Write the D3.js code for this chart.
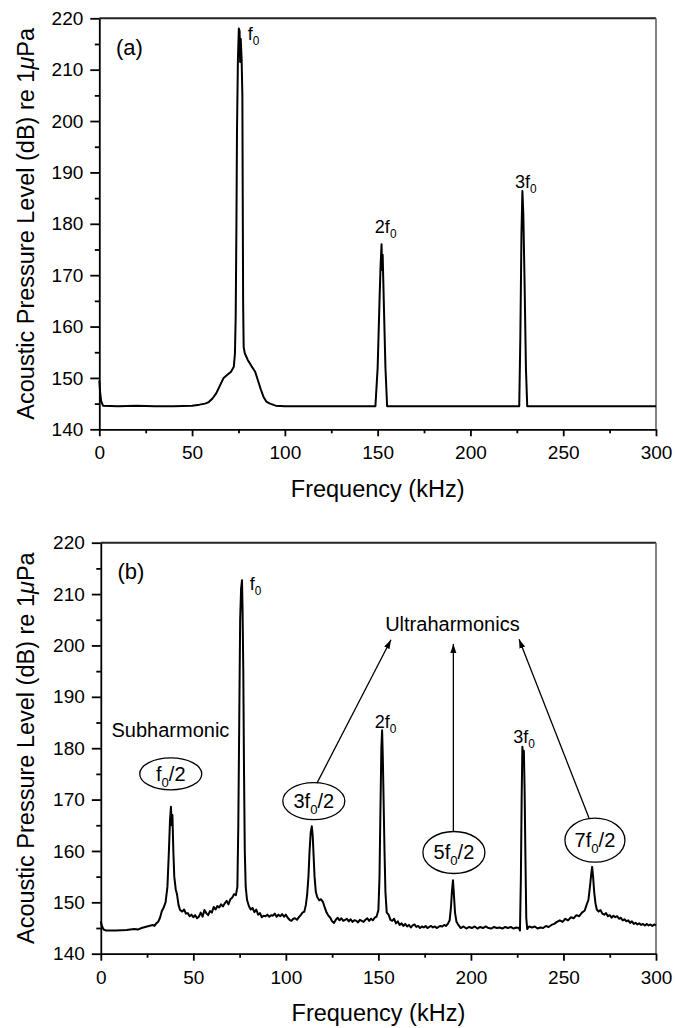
<!DOCTYPE html>
<html>
<head>
<meta charset="utf-8">
<script src="https://cdn.jsdelivr.net/npm/d3@7"></script>
<style>
  body { margin: 0; background: #fff; }
  text { font-family: "Liberation Sans", Arial, sans-serif; fill: #000; }
</style>
</head>
<body>
<svg id="chart" width="675" height="1028"></svg>
<script>
// ---- data (kHz, dB re 1 uPa) ----
const xTicks = [0, 50, 100, 150, 200, 250, 300];
const xMinor = [25, 75, 125, 175, 225, 275];
const yTicks = [140, 150, 160, 170, 180, 190, 200, 210, 220];
const yMinor = [145, 155, 165, 175, 185, 195, 205, 215];

// panel (a) spectrum
const specA = [
  [0, 149.5], [0.5, 147], [1, 145.5], [2, 144.6], [10, 144.5], [20, 144.6], [30, 144.5],
  [40, 144.5], [50, 144.6], [54, 144.8], [57, 145.0], [59, 145.3], [61, 146.0], [63, 147.0],
  [65, 148.5], [67, 150.0], [69, 150.6], [71, 151.2], [72.5, 152.2], [73.1, 154.8],
  [73.5, 162], [73.9, 180], [74.2, 198], [74.7, 212], [75.2, 218], [75.6, 217.5],
  [75.9, 211.5], [76.2, 216], [76.7, 212], [77.1, 205], [77.3, 185], [77.5, 165],
  [77.8, 156], [78.4, 154.8], [80, 153.5], [82, 152.3], [84, 151.2], [85.5, 149.5],
  [87, 147.8], [88.5, 146.3], [90, 145.4], [92, 145.0], [95, 144.6], [100, 144.5],
  [148.8, 144.5], [150, 152], [151, 165], [151.6, 172], [152.1, 176], [152.4, 171],
  [152.7, 174], [153.3, 165], [154.2, 152], [155.1, 144.5], [226.3, 144.5], [226.9, 158],
  [227.5, 178], [228, 186.4], [228.5, 182], [229.2, 168], [229.9, 152], [230.6, 144.5],
  [300, 144.5]
];

// panel (b) spectrum
const specB = [
  [0, 146.3], [0.5, 145.5], [1.5, 144.7], [3, 144.5], [8, 144.5], [14, 144.6], [18, 144.8],
  [20, 144.7], [22, 145.0], [24, 145.2], [26, 145.4], [28, 145.6], [29, 145.4], [30, 145.9],
  [31, 146.2], [32, 147.0], [33, 148.3], [34, 149.0], [35, 150.0], [36, 153], [36.8, 160],
  [37.4, 166], [37.9, 168.6], [38.3, 165], [38.7, 167], [39.2, 160], [39.7, 155],
  [40.5, 152.5], [41.2, 151.5], [42, 149.5], [42.8, 148.5], [44, 148.2], [45, 148.6],
  [46, 147.8], [47, 147.9], [48, 147.3], [49, 147.6], [50, 147.1], [51, 147.5], [52, 146.9],
  [53, 147.2], [54, 148.0], [55, 147.2], [56, 148.5], [57, 147.9], [58, 147.5], [59, 148.3],
  [60, 148.0], [61, 149.1], [62, 148.6], [63, 149.3], [64, 149.0], [65, 149.6], [66, 149.2],
  [67, 149.8], [68, 150.3], [69, 149.6], [70, 150.6], [71, 150.9], [72, 151.6], [73, 151.4],
  [73.8, 153], [74.3, 165], [74.8, 185], [75.3, 205], [75.8, 211], [76.3, 212.7],
  [76.6, 207], [77.0, 195], [77.4, 175], [77.8, 160], [78.3, 153], [79, 150.5], [80, 149.3],
  [81, 148.6], [82, 148.9], [83, 148.1], [84, 148.6], [85, 147.6], [86, 147.9], [87, 147.1],
  [88, 147.4], [89, 147.3], [90, 147.6], [91, 147.2], [92, 147.5], [93, 147.4], [94, 147.8],
  [95, 147.2], [96, 147.6], [97, 147.3], [98, 147.7], [99, 147.2], [100, 147.6], [101, 147.0],
  [102, 146.6], [103, 146.4], [104, 146.8], [105, 146.9], [106, 146.6], [107, 147.1],
  [108, 147.5], [109, 148.0], [110, 148.2], [110.8, 149.5], [111.5, 151.5], [112.2, 155],
  [112.8, 160], [113.4, 163.5], [114.0, 164.8], [114.5, 163], [115.0, 159], [115.5, 155],
  [116.2, 152], [117, 151], [118, 150.4], [119, 150.6], [120, 150.1], [121, 149.0],
  [122, 148.0], [123, 147.4], [124, 147.0], [125, 146.3], [126, 146.0], [127, 146.6],
  [128, 147.0], [129, 146.5], [130, 146.9], [131, 146.4], [132, 146.6], [133, 146.8],
  [134, 146.3], [135, 146.7], [136, 146.2], [137, 146.5], [138, 146.4], [139, 146.1],
  [140, 146.6], [141, 146.4], [142, 146.2], [143, 146.6], [144, 146.9], [145, 146.4],
  [146, 146.8], [147, 146.5], [148, 147.0], [149, 147.2], [150, 148.5], [150.6, 155],
  [151.1, 168], [151.6, 180], [152.0, 183.5], [152.4, 178], [152.8, 170], [153.3, 160],
  [153.8, 152], [154.5, 148], [155.5, 147.6], [156.5, 146.6], [157.5, 146.4], [158.5, 146.8],
  [159.5, 145.9], [160.5, 146.3], [161.5, 145.6], [162.5, 145.9], [163.5, 145.4],
  [164.5, 145.8], [165.5, 145.3], [166.5, 145.6], [167.5, 145.1], [168.5, 145.5],
  [169.5, 145.7], [170.5, 145.2], [171.5, 145.4], [172.5, 145.0], [173.5, 145.3],
  [174.5, 145.1], [175.5, 145.4], [176.5, 145.0], [177.5, 145.2], [178.5, 145.4],
  [179.5, 145.1], [180.5, 145.3], [181.5, 145.0], [182.5, 145.2], [183.5, 145.4],
  [184.5, 145.3], [185.5, 145.6], [186.5, 145.4], [187.5, 145.8], [188.5, 146.5],
  [189.2, 149], [189.8, 152.5], [190.3, 154.3], [190.8, 151.5], [191.4, 148], [192.2, 146.2],
  [193.2, 145.6], [194.5, 145.0], [196, 145.3], [197.5, 144.9], [199, 145.2], [200.5, 145.0],
  [202, 145.3], [203.5, 144.9], [205, 145.2], [206.5, 145.0], [208, 145.3], [209.5, 145.0],
  [211, 144.9], [212.5, 145.2], [214, 145.0], [215.5, 145.1], [217, 144.9], [218.5, 145.2],
  [220, 145.0], [221.5, 145.2], [223, 144.9], [224.5, 145.1], [226, 145.0], [226.5, 144.5],
  [227.0, 155], [227.4, 170], [227.8, 180.3], [228.2, 178], [228.6, 179.5], [229.0, 172],
  [229.4, 160], [229.9, 147], [230.4, 144.8], [231.5, 145.3], [233, 145.1], [234.5, 145.3],
  [236, 144.9], [237.5, 145.1], [239, 145.0], [240.5, 145.4], [242, 145.2], [243.5, 145.6],
  [245, 145.8], [246.5, 146.2], [248, 146.5], [249.5, 146.2], [251, 146.8], [252.5, 146.5],
  [254, 147.1], [255.5, 146.9], [257, 147.5], [258.5, 147.3], [260, 148.0], [261.5, 148.4],
  [262.5, 149.5], [263.5, 150.5], [264.3, 153], [265.0, 155.5], [265.5, 156.9], [266.0, 155],
  [266.6, 152], [267.3, 149.8], [268, 148.6], [269, 148.2], [270, 148.5], [271, 147.8],
  [272, 147.6], [273, 147.9], [274, 147.3], [275, 147.5], [276, 147.0], [277, 147.4],
  [278, 147.1], [279, 147.3], [280, 146.8], [281, 147.0], [282, 146.5], [283, 146.7],
  [284, 146.3], [285, 146.5], [286, 146.0], [287, 146.3], [288, 145.8], [289, 146.0],
  [290, 145.7], [291, 145.9], [292, 145.6], [293, 145.8], [294, 145.5], [295, 145.8],
  [296, 145.5], [297, 145.7], [298, 145.4], [299, 145.7], [300, 145.5]
];

// peak labels: [kHz, dB, prefix, subscript]
const peaksA = [[80, 215.8, "f", "0"], [148.5, 178.2, "2f", "0"], [224, 187, "3f", "0"]];
const peaksB = [[80.5, 210.8, "f", "0"], [148, 184, "2f", "0"], [222.9, 181, "3f", "0"]];

// circled labels in (b): [kHz, dB, prefix, sub, suffix, rx, ry]
const bubblesB = [
  [37.8, 175.0, "f", "0", "/2", 31, 16],
  [115.1, 169.7, "3f", "0", "/2", 31, 18.5],
  [190.8, 159.7, "5f", "0", "/2", 31, 21],
  [267.0, 162.1, "7f", "0", "/2", 30, 22]
];
// arrows in (b): [fromKHz, fromDB, toKHz, toDB]
const arrowsB = [
  [116.8, 173.2, 156.8, 201.1],
  [190.5, 163.9, 190.5, 200.3],
  [263.8, 166.4, 226.0, 201.2]
];

const svg = d3.select("#chart");

svg.append("defs").append("marker")
  .attr("id", "head")
  .attr("markerUnits", "userSpaceOnUse")
  .attr("markerWidth", 10).attr("markerHeight", 7)
  .attr("refX", 9).attr("refY", 3)
  .attr("orient", "auto")
  .append("path").attr("d", "M0,0 L9,3 L0,6 Z").attr("fill", "#000");

function subLabel(g, x, y, pre, sub, post, size, anchor) {
  const t = g.append("text")
    .attr("x", x).attr("y", y)
    .attr("font-size", size)
    .attr("text-anchor", anchor || "start");
  t.append("tspan").text(pre);
  t.append("tspan").attr("font-size", size * 0.66).attr("dy", size * 0.3).text(sub);
  if (post) t.append("tspan").attr("dy", -size * 0.3).text(post);
  return t;
}

function panel(box, spec, tag, peaks) {
  const g = svg.append("g");
  const x = d3.scaleLinear().domain([0, 300]).range([box.left, box.right]);
  const y = d3.scaleLinear().domain([140, 220]).range([box.bottom, box.top]);

  // frame top / right
  g.append("line").attr("x1", x(0)).attr("x2", x(300)).attr("y1", y(220)).attr("y2", y(220))
    .attr("stroke", "#222").attr("stroke-width", 2);
  g.append("line").attr("x1", x(300)).attr("x2", x(300)).attr("y1", y(220)).attr("y2", y(140))
    .attr("stroke", "#666").attr("stroke-width", 1.6);

  // minor ticks
  g.append("g").attr("transform", `translate(0,${y(140)})`)
    .call(d3.axisBottom(x).tickValues(xMinor).tickSize(4).tickFormat(""))
    .call(a => a.select(".domain").remove())
    .selectAll("line").attr("stroke-width", 1.8);
  g.append("g").attr("transform", `translate(${x(0)},0)`)
    .call(d3.axisLeft(y).tickValues(yMinor).tickSize(4.5).tickFormat(""))
    .call(a => a.select(".domain").remove())
    .selectAll("line").attr("stroke-width", 1.8);

  // major axes
  const xa = g.append("g").attr("transform", `translate(0,${y(140)})`)
    .call(d3.axisBottom(x).tickValues(xTicks).tickSize(7).tickPadding(9.5).tickSizeOuter(0));
  const ya = g.append("g").attr("transform", `translate(${x(0)},0)`)
    .call(d3.axisLeft(y).tickValues(yTicks).tickSize(9).tickPadding(7).tickSizeOuter(0));
  [xa, ya].forEach(a => {
    a.attr("font-size", null).attr("font-family", null);
    a.selectAll("text").attr("font-size", 19);
    a.selectAll("line").attr("stroke-width", 1.8);
    a.select(".domain").attr("stroke-width", 1.8);
  });

  // spectrum
  g.append("path").datum(spec)
    .attr("fill", "none").attr("stroke", "#000").attr("stroke-width", 2)
    .attr("stroke-linejoin", "round")
    .attr("d", d3.line().x(d => x(d[0])).y(d => y(d[1])));

  // axis titles
  g.append("text")
    .attr("x", (x(0) + x(300)) / 2).attr("y", y(140) + 67.7)
    .attr("text-anchor", "middle").attr("font-size", 23.5)
    .text("Frequency (kHz)");
  const yt = g.append("text")
    .attr("transform", `translate(34,${(y(140) + y(220)) / 2}) rotate(-90)`)
    .attr("text-anchor", "middle").attr("font-size", 23.5);
  yt.append("tspan").text("Acoustic Pressure Level (dB) re 1");
  yt.append("tspan").attr("font-style", "italic").text("\u03BC");
  yt.append("tspan").text("Pa");

  // panel tag
  g.append("text").attr("x", x(9)).attr("y", y(212.9)).attr("font-size", 22).text(tag);

  peaks.forEach(p => subLabel(g, x(p[0]), y(p[1]), p[2], p[3], null, 18));
  return { g, x, y };
}

panel({ left: 99.3, right: 656, top: 18.3, bottom: 429.3 }, specA, "(a)", peaksA);
const pb = panel({ left: 100.8, right: 656, top: 542.7, bottom: 953.7 }, specB, "(b)", peaksB);

// annotations of panel (b)
const gb = pb.g, xb = pb.x, yb = pb.y;
gb.append("text").attr("x", xb(5.8)).attr("y", yb(182.2)).attr("font-size", 20).text("Subharmonic");
gb.append("text").attr("x", xb(190)).attr("y", yb(202.8)).attr("font-size", 20)
  .attr("text-anchor", "middle").text("Ultraharmonics");

bubblesB.forEach(b => {
  gb.append("ellipse")
    .attr("cx", xb(b[0])).attr("cy", yb(b[1]))
    .attr("rx", b[5]).attr("ry", b[6])
    .attr("fill", "#fff").attr("stroke", "#000").attr("stroke-width", 1.3);
  subLabel(gb, xb(b[0]), yb(b[1]) + 7, b[2], b[3], b[4], 20, "middle");
});

arrowsB.forEach(a => {
  gb.append("line")
    .attr("x1", xb(a[0])).attr("y1", yb(a[1]))
    .attr("x2", xb(a[2])).attr("y2", yb(a[3]))
    .attr("stroke", "#000").attr("stroke-width", 1.3)
    .attr("marker-end", "url(#head)");
});
</script>
</body>
</html>
